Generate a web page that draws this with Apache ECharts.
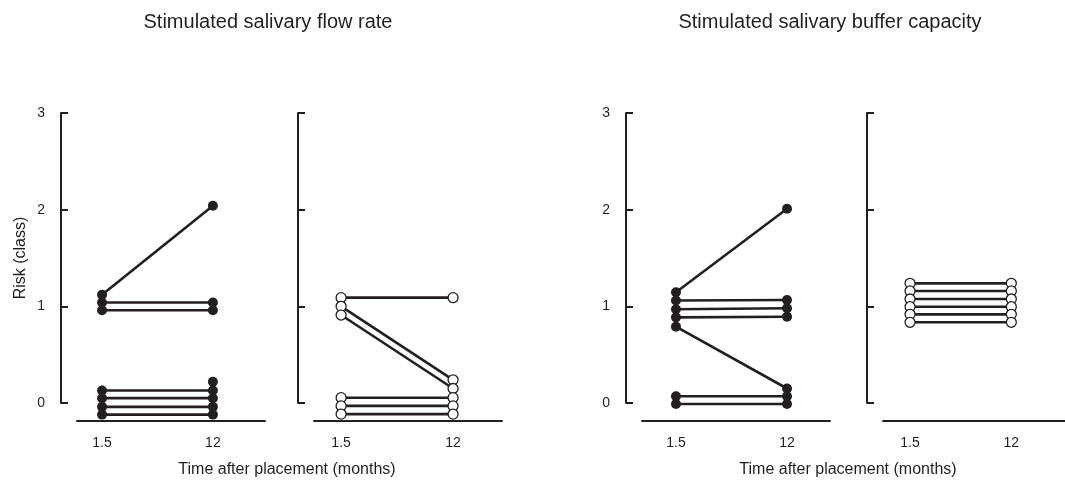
<!DOCTYPE html>
<html>
<head>
<meta charset="utf-8">
<script src="https://cdn.jsdelivr.net/npm/echarts@6/dist/echarts.min.js"></script>
<style>
html,body{margin:0;padding:0;background:#fff;}
#chart{width:1065px;height:482px;}
</style>
</head>
<body>
<div id="chart"></div>
<script>
// ---- data ----
const timeLabels = ['1.5', '12'];
const riskTicks = [0, 1, 2, 3];
const panelTitles = ['Stimulated salivary flow rate', 'Stimulated salivary buffer capacity'];
const xAxisTitle = 'Time after placement (months)';
const yAxisTitle = 'Risk (class)';
// each row = one subject: [value at 1.5 months, value at 12 months]
const flowClosed = [[1.12, 2.04], [1.04, 1.04], [0.96, 0.96], [0.13, 0.13], [0.05, 0.05], [-0.04, -0.04], [-0.12, -0.12], [null, 0.22]];
const flowOpen = [[1.09, 1.09], [1.00, 0.24], [0.91, 0.15], [0.055, 0.055], [-0.03, -0.03], [-0.115, -0.115]];
const bufferClosed = [[1.145, 2.01], [1.06, 1.065], [0.97, 0.98], [0.886, 0.893], [0.79, 0.15], [0.07, 0.07], [-0.01, -0.01]];
const bufferOpen = [[1.238, 1.238], [1.159, 1.159], [1.076, 1.076], [0.996, 0.996], [0.917, 0.917], [0.835, 0.835]];

// ---- layout ----
const INK = '#231f20';
const FONT = '"Liberation Sans", Arial, sans-serif';
const panels = [
  {data: flowClosed, open: false, left: 77, width: 188, min: -0.226, max: 1.47, labels: true},
  {data: flowOpen, open: true, left: 314, width: 188, min: -0.242, max: 1.437, labels: false},
  {data: bufferClosed, open: false, left: 642, width: 188, min: -0.306, max: 1.387, labels: true},
  {data: bufferOpen, open: true, left: 883, width: 200, min: -0.267, max: 1.53, labels: false}
];

const grid = [], xAxis = [], yAxis = [], series = [];
panels.forEach((p, i) => {
  grid.push({left: p.left, top: 113, width: p.width, height: 290, containLabel: false});
  xAxis.push({
    type: 'value', gridIndex: i, min: p.min, max: p.max, offset: 18,
    axisLine: {show: true, onZero: false, lineStyle: {color: INK, width: 2}},
    axisTick: {show: false},
    splitLine: {show: false},
    axisLabel: {
      customValues: timeLabels.map((_, k) => k),
      formatter: v => timeLabels[Math.round(v)],
      color: INK, fontSize: 14, fontFamily: FONT, margin: 15
    }
  });
  yAxis.push({
    type: 'value', gridIndex: i, min: riskTicks[0], max: riskTicks[riskTicks.length - 1], interval: 1, offset: 16,
    axisLine: {show: true, onZero: false, lineStyle: {color: INK, width: 2}},
    axisTick: {show: true, inside: true, length: 7, lineStyle: {color: INK, width: 2}},
    splitLine: {show: false},
    axisLabel: {show: p.labels, color: INK, fontSize: 14, fontFamily: FONT, margin: 16},
    name: i === 0 ? yAxisTitle : '',
    nameLocation: 'middle', nameGap: 32,
    nameTextStyle: {color: INK, fontSize: 16, fontFamily: FONT}
  });
  p.data.forEach(row => {
    series.push({
      type: 'line', xAxisIndex: i, yAxisIndex: i, clip: false, silent: true,
      showSymbol: false, symbol: 'none',
      lineStyle: {color: INK, width: 2.6},
      data: row.map((v, k) => [k, v === null ? '-' : v]),
      z: 2
    });
  });
  const pts = [];
  p.data.forEach(row => row.forEach((v, k) => { if (v !== null) pts.push([k, v]); }));
  series.push({
    type: 'scatter', xAxisIndex: i, yAxisIndex: i, clip: false, silent: true,
    symbol: 'circle', symbolSize: 10,
    itemStyle: p.open ? {color: '#fff', borderColor: INK, borderWidth: 1.3, opacity: 1} : {color: INK, opacity: 1},
    data: pts, z: 3
  });
});

const textStyle = (t, x, y, size) => ({
  type: 'text', x: x, y: y,
  style: {text: t, fill: INK, font: size + 'px ' + FONT, textAlign: 'center', textVerticalAlign: 'middle'}
});

const chart = echarts.init(document.getElementById('chart'), null, {renderer: 'canvas'});
chart.setOption({
  animation: false,
  backgroundColor: '#fff',
  grid, xAxis, yAxis, series,
  graphic: [
    textStyle(panelTitles[0], 268, 22, 20),
    textStyle(panelTitles[1], 830, 22, 20),
    textStyle(xAxisTitle, 287, 470, 16),
    textStyle(xAxisTitle, 848, 470, 16)
  ]
});
</script>
</body>
</html>
